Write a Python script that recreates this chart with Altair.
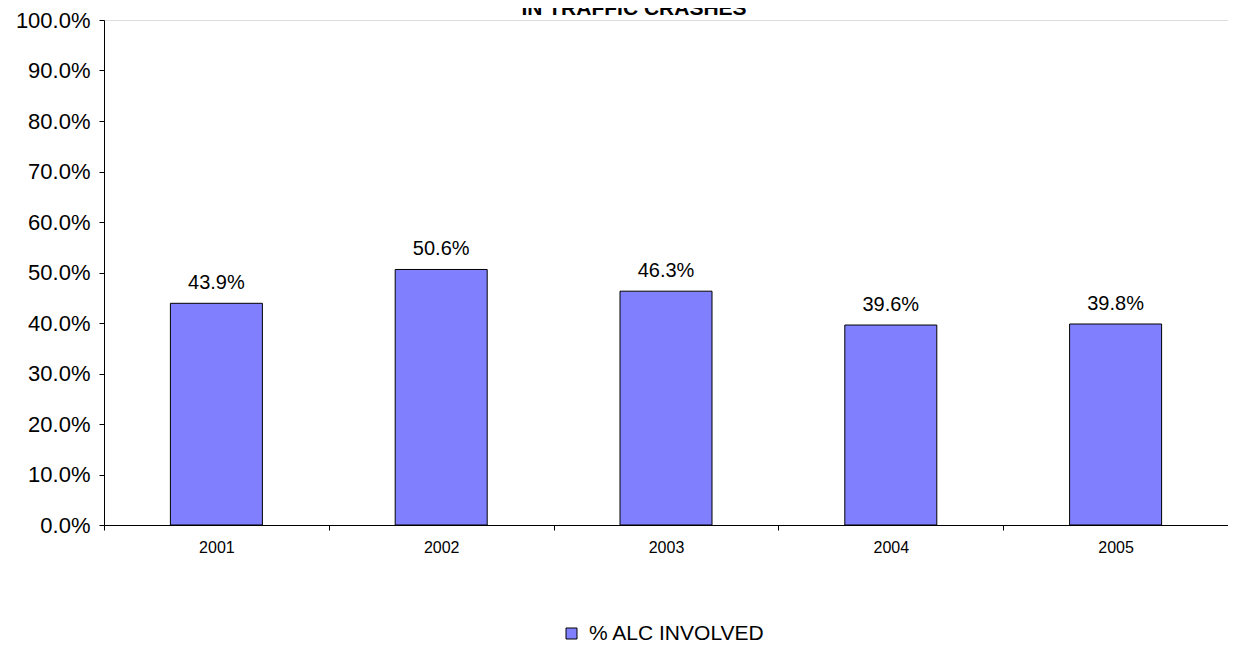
import altair as alt
import pandas as pd

years = ["2001", "2002", "2003", "2004", "2005"]
values = [0.439, 0.506, 0.463, 0.396, 0.398]
series_name = "% ALC INVOLVED"
title_text = "IN TRAFFIC CRASHES"
y_ticks = [0.0, 0.1, 0.2, 0.3, 0.4, 0.5, 0.6, 0.7, 0.8, 0.9, 1.0]

FONT = "Liberation Sans"

df = pd.DataFrame({"year": years, "value": values, "series": [series_name] * len(years)})

x_enc = alt.X(
    "year:N",
    sort=years,
    scale=alt.Scale(paddingInner=0, paddingOuter=0),
    axis=alt.Axis(
        title=None,
        labelAngle=0,
        tickBand="extent",
        tickSize=5,
        tickColor="#000",
        domainColor="#000",
        labelFont=FONT,
        labelFontSize=16,
        labelColor="#000",
        labelPadding=9,
        grid=False,
    ),
)

y_enc = alt.Y(
    "value:Q",
    scale=alt.Scale(domain=[0, 1], nice=False),
    axis=alt.Axis(
        title=None,
        values=y_ticks,
        format=".1%",
        tickSize=5,
        tickColor="#000",
        domainColor="#000",
        labelFont=FONT,
        labelFontSize=22,
        labelColor="#000",
        labelPadding=9,
        grid=False,
    ),
)

bars = alt.Chart(df).mark_bar(
    width=92, stroke="#000", strokeWidth=1
).encode(
    x=x_enc,
    y=y_enc,
    color=alt.Color(
        "series:N",
        scale=alt.Scale(range=["#8080FF"]),
        legend=alt.Legend(
            title=None,
            orient="none",
            legendX=457,
            legendY=603,
            symbolType="square",
            symbolSize=121,
            symbolStrokeColor="#000",
            symbolStrokeWidth=1,
            labelFont=FONT,
            labelFontSize=21,
            labelColor="#000",
            labelOffset=7,
            labelLimit=0,
        ),
    ),
)

labels = alt.Chart(df).mark_text(
    font=FONT, fontSize=20, color="#000", baseline="alphabetic", dy=-14
).encode(
    x=alt.X("year:N", sort=years),
    y=alt.Y("value:Q"),
    text=alt.Text("value:Q", format=".1%"),
)

title = alt.Chart(pd.DataFrame({"t": [title_text]})).mark_text(
    font=FONT, fontSize=21, fontWeight="bold", color="#000", baseline="alphabetic"
).encode(
    text="t:N",
    x=alt.value(530),
    y=alt.value(-5),
)

chart = alt.layer(bars, labels, title).properties(
    width=1124,
    height=505,
    autosize=alt.AutoSizeParams(type="none"),
    padding={"left": 96, "top": 12, "right": 0, "bottom": 118},
).configure_view(stroke=None).configure(background="#ffffff")

chart.save("out.html", embed_options={"renderer": "svg", "actions": False})
